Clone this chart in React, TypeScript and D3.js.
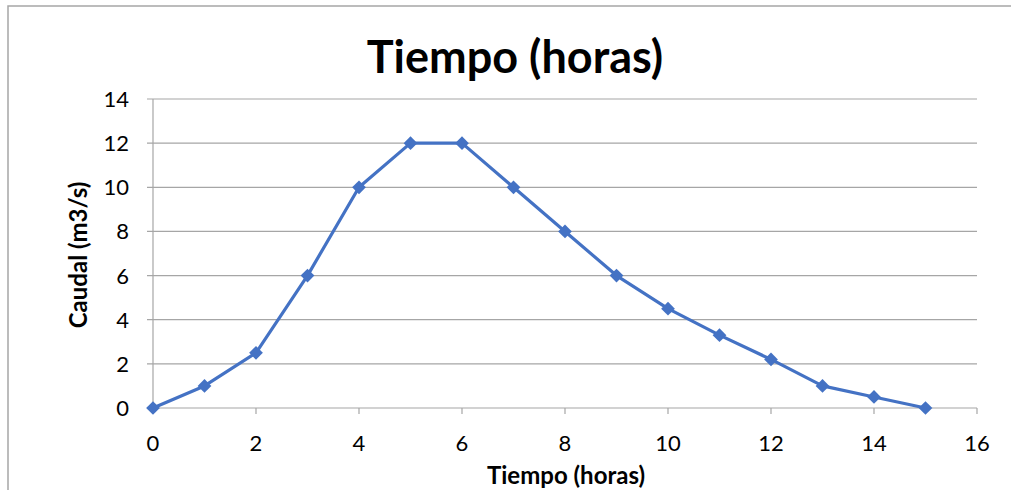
import React from "react";
import * as d3 from "d3";

const horas = [0, 1, 2, 3, 4, 5, 6, 7, 8, 9, 10, 11, 12, 13, 14, 15];
const caudal = [0, 1, 2.5, 6, 10, 12, 12, 10, 8, 6, 4.5, 3.3, 2.2, 1, 0.5, 0];
const xTicks = [0, 2, 4, 6, 8, 10, 12, 14, 16];
const yTicks = [0, 2, 4, 6, 8, 10, 12, 14];

const W = 1011;
const H = 490;
const FONT = "Lato, 'Open Sans', sans-serif";
const BLUE = "#4472C4";
const GRID = "#a6a6a6";

export default function App() {
  const x = d3.scaleLinear().domain([0, 16]).range([153, 977]);
  const y = d3.scaleLinear().domain([0, 14]).range([408, 99]);
  const pts = horas.map((h, i) => ({ h, q: caudal[i] }));
  const line = d3.line<{ h: number; q: number }>().x(d => x(d.h)).y(d => y(d.q));
  const diamond = d3.symbol().type(d3.symbolDiamond2).size(120)();

  return (
    <svg width={W} height={H} style={{ position: "absolute", left: 0, top: 0, background: "#fff" }}>
      <rect x={8} y={6} width={W + 20} height={H + 20} fill="#fff" stroke={GRID} strokeWidth={1.5} />
      <text x={515} y={73} textAnchor="middle" fontFamily={FONT} fontWeight="bold" fontSize={45}>
        Tiempo (horas)
      </text>
      {yTicks.map(t => (
        <g key={t}>
          <line x1={147} x2={977} y1={y(t)} y2={y(t)} stroke={GRID} strokeWidth={1.2} />
          <text x={129} y={y(t) + 8} textAnchor="end" fontFamily={FONT} fontSize={22}>{t}</text>
        </g>
      ))}
      <line x1={153} x2={153} y1={99} y2={408} stroke={GRID} strokeWidth={1.2} />
      {xTicks.map(t => (
        <g key={t}>
          <line x1={x(t)} x2={x(t)} y1={408} y2={414} stroke={GRID} strokeWidth={1.2} />
          <text x={x(t)} y={451} textAnchor="middle" fontFamily={FONT} fontSize={22}>{t}</text>
        </g>
      ))}
      <text x={566} y={484} textAnchor="middle" fontFamily={FONT} fontWeight="bold" fontSize={24}>
        Tiempo (horas)
      </text>
      <text transform="translate(87,255) rotate(-90)" textAnchor="middle" fontFamily={FONT} fontWeight="bold" fontSize={24}>
        Caudal (m3/s)
      </text>
      <path d={line(pts) || ""} fill="none" stroke={BLUE} strokeWidth={3.2} strokeLinejoin="round" />
      {pts.map(p => (
        <path key={p.h} d={diamond || ""} transform={`translate(${x(p.h)},${y(p.q)})`} fill={BLUE} />
      ))}
    </svg>
  );
}
